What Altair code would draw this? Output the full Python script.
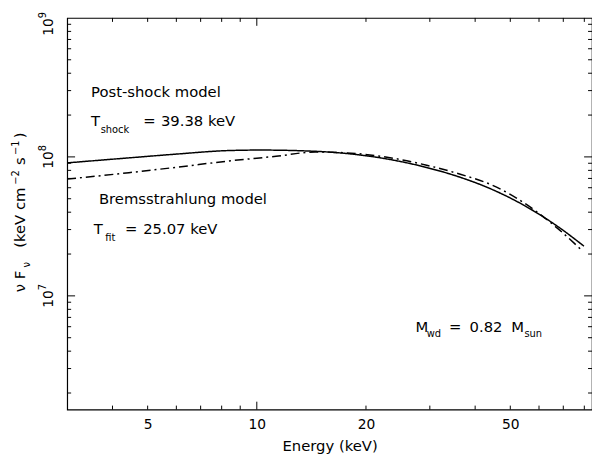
import altair as alt
import pandas as pd

# ---- data ----
energy_shock = [3.0, 4.44, 6.07, 8.29, 10.2, 14.5, 18.7, 23.9, 29.4, 36.4, 44.7, 54.9, 67.9, 79.8]
flux_shock = [9.06e7, 9.84e7, 1.05e8, 1.11e8, 1.12e8, 1.097e8, 1.042e8, 9.46e7, 8.39e7, 7.13e7, 5.81e7, 4.44e7, 3.13e7, 2.28e7]

energy_brems = [3.0, 4.44, 6.07, 8.29, 11.3, 14.5, 18.7, 23.9, 29.4, 36.4, 44.7, 54.9, 67.9, 78.4]
flux_brems = [6.92e7, 7.70e7, 8.45e7, 9.32e7, 1.01e8, 1.085e8, 1.058e8, 9.76e7, 8.71e7, 7.50e7, 6.24e7, 4.62e7, 3.02e7, 2.15e7]

x_minor_ticks = [4, 5, 6, 7, 8, 9, 20, 30, 40, 50, 60, 70, 80]
x_major_ticks = [10]
x_tick_labels = [5, 10, 20, 50]

y_minor_ticks = [m * 10 ** e for e in (6, 7, 8) for m in range(2, 10)]
y_major_ticks = [1e7, 1e8]
y_label_values = [1e7, 1e8]
y_label_exps = ["7", "8"]
y_top_value = [1e9]
y_top_exp = ["9"]

main_texts = ["Post-shock model", "T", "=", "39.38 keV",
              "Bremsstrahlung model", "T", "=", "25.07 keV",
              "M", "=", "0.82", "M"]
main_E = [3.49, 3.49, 4.86, 5.44, 3.67, 3.55, 4.33, 4.86, 27.4, 33.9, 38.6, 50.3]
main_F = [2.70e8, 1.67e8, 1.67e8, 1.67e8, 4.59e7, 2.81e7, 2.81e7, 2.81e7, 5.48e6, 5.48e6, 5.48e6, 5.48e6]

sub_texts = ["shock", "fit", "wd", "sun"]
sub_E = [3.71, 3.82, 29.4, 54.7]
sub_F = [1.49e8, 2.49e7, 5.05e6, 5.05e6]

# ---- layout ----
W, H = 532, 397
FONT = "DejaVu Sans"
xs = alt.Scale(type="log", domain=[3, 84])
ys = alt.Scale(type="log", domain=[1.52e6, 1e9])

x_axis = alt.Axis(
    values=x_tick_labels, format="d", ticks=False, tickSize=0, domain=False, grid=False,
    labelFont=FONT, labelFontSize=14, labelColor="black", labelPadding=8,
    title="Energy (keV)", titleFont=FONT, titleFontSize=15, titleFontWeight="normal",
    titleColor="black", titleBaseline="alphabetic", titleY=41)

curves = pd.concat([
    pd.DataFrame({"E": energy_shock, "F": flux_shock, "model": "shock"}),
    pd.DataFrame({"E": energy_brems, "F": flux_brems, "model": "brems"}),
])

lines = alt.Chart(curves).mark_line(color="black", strokeWidth=1.5, interpolate="monotone").encode(
    x=alt.X("E:Q", scale=xs, axis=x_axis),
    y=alt.Y("F:Q", scale=ys, axis=None),
    strokeDash=alt.StrokeDash("model:N", scale=alt.Scale(domain=["shock", "brems"],
                                                        range=[[1, 0], [9, 4, 2, 4]]), legend=None),
)


def xticks(vals, length):
    df = pd.DataFrame({"E": vals})
    base = alt.Chart(df).mark_rule(color="black", strokeWidth=1)
    enc = dict(x=alt.X("E:Q", scale=xs, axis=x_axis))
    bottom = base.encode(y=alt.value(H), y2=alt.value(H - length), **enc)
    top = base.encode(y=alt.value(0), y2=alt.value(length), **enc)
    return [bottom, top]


def yticks(vals, length):
    df = pd.DataFrame({"F": vals})
    base = alt.Chart(df).mark_rule(color="black", strokeWidth=1)
    enc = dict(y=alt.Y("F:Q", scale=ys, axis=None))
    left = base.encode(x=alt.value(0), x2=alt.value(length), **enc)
    right = base.encode(x=alt.value(W), x2=alt.value(W - length), **enc)
    return [left, right]


tick_layers = xticks(x_minor_ticks, 4) + xticks(x_major_ticks, 8) + yticks(y_minor_ticks, 4) + yticks(y_major_ticks, 8)

main_df = pd.DataFrame({"t": main_texts, "E": main_E, "F": main_F})
sub_df = pd.DataFrame({"t": sub_texts, "E": sub_E, "F": sub_F})

main_txt = alt.Chart(main_df).mark_text(font=FONT, fontSize=15, align="left", baseline="alphabetic",
                                        color="black").encode(
    x=alt.X("E:Q", scale=xs, axis=x_axis), y=alt.Y("F:Q", scale=ys, axis=None), text="t:N")
sub_txt = alt.Chart(sub_df).mark_text(font=FONT, fontSize=10, align="left", baseline="alphabetic",
                                      color="black").encode(
    x=alt.X("E:Q", scale=xs, axis=x_axis), y=alt.Y("F:Q", scale=ys, axis=None), text="t:N")

# y tick labels (rotated, 10 + superscript)
ylab_df = pd.DataFrame({"F": y_label_values, "e": y_label_exps})
ytop_df = pd.DataFrame({"F": y_top_value, "e": y_top_exp})


def ylabels(df, shift):
    base10 = alt.Chart(df).mark_text(font=FONT, fontSize=14, angle=270, align="right",
                                     baseline="alphabetic", dx=5.7 - shift, color="black").encode(
        x=alt.value(-14), y=alt.Y("F:Q", scale=ys, axis=None), text=alt.value("10"))
    sup = alt.Chart(df).mark_text(font=FONT, fontSize=10, angle=270, align="left",
                                  baseline="alphabetic", dx=5.7 - shift, color="black").encode(
        x=alt.value(-21), y=alt.Y("F:Q", scale=ys, axis=None), text="e:N")
    return [base10, sup]


ylabel_layers = ylabels(ylab_df, 0) + ylabels(ytop_df, 6)


def ytitle_piece(text, px, py, size):
    return alt.Chart(pd.DataFrame({"a": [0]})).mark_text(
        font=FONT, fontSize=size, angle=270, align="left", baseline="alphabetic", color="black"
    ).encode(x=alt.value(px), y=alt.value(py), text=alt.value(text))


title_layers = [
    ytitle_piece("ν F", -43, 278, 15),
    ytitle_piece("ν", -38, 253, 10),
    ytitle_piece("(keV cm", -43, 233, 15),
    ytitle_piece("−2", -49, 169, 10),
    ytitle_piece("s", -43, 149, 15),
    ytitle_piece("−1", -49, 139, 10),
    ytitle_piece(")", -43, 122, 15),
]

chart = alt.layer(lines, *tick_layers, main_txt, sub_txt, *ylabel_layers, *title_layers).properties(
    width=W, height=H,
    padding={"left": 60, "top": 7, "right": 0, "bottom": 44},
    autosize=alt.AutoSizeParams(type="none"),
    background="white",
).configure_view(stroke="black", strokeWidth=1.2)

chart.save("out.html", embed_options={"renderer": "svg", "actions": False})
